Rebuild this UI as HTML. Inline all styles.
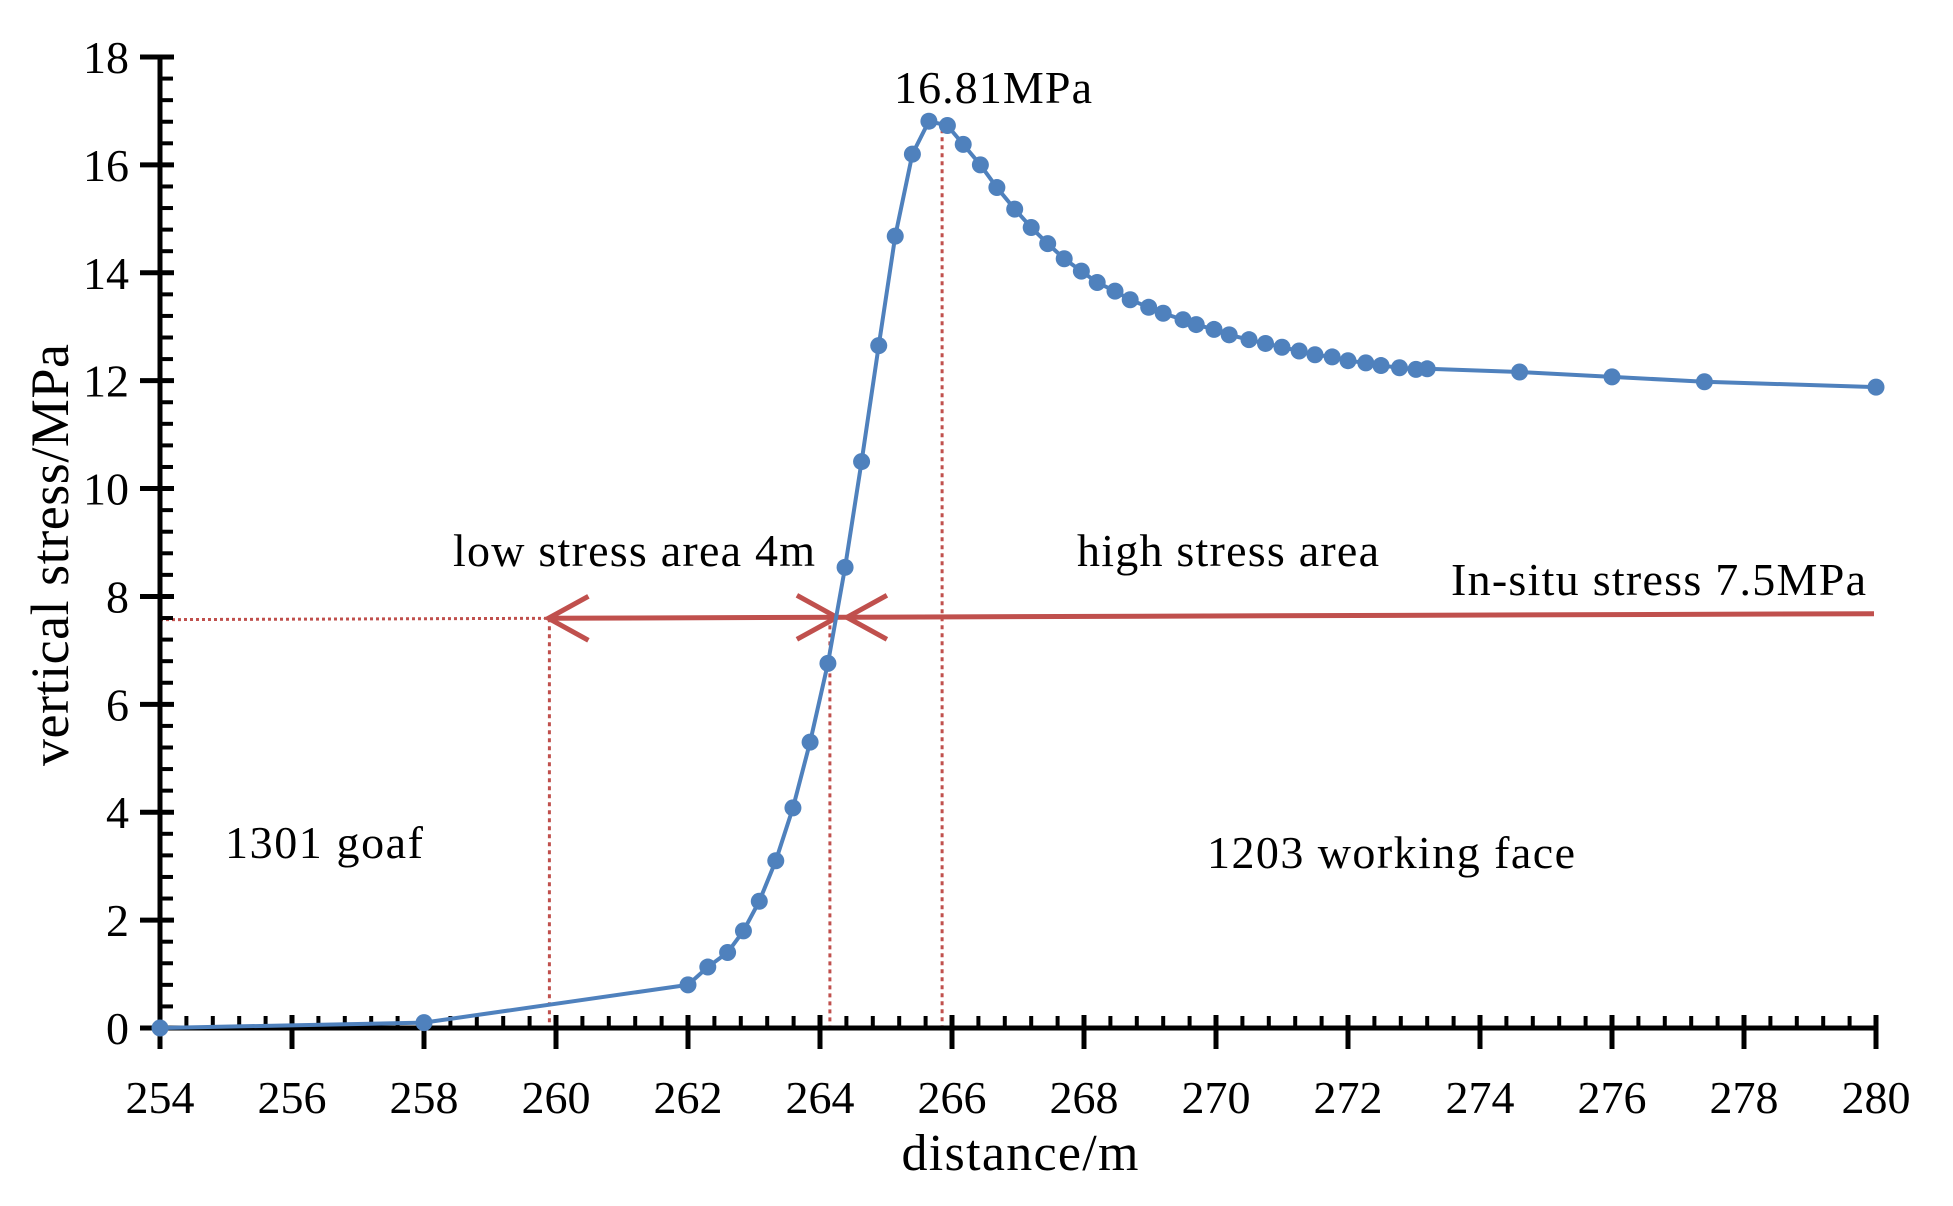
<!DOCTYPE html>
<html><head><meta charset="utf-8"><style>
html,body{margin:0;padding:0;background:#fff;}
svg{display:block;}
text{font-family:"Liberation Serif",serif;fill:#000;}
</style></head><body>
<svg id="chart" width="1953" height="1206" viewBox="0 0 1953 1206" xmlns="http://www.w3.org/2000/svg">
<g id="grid"></g>
<g id="axes"></g>
<g id="series"></g>
<text x="993" y="103" font-size="46" text-anchor="middle" textLength="198">16.81MPa</text>
<text x="453" y="566" font-size="46" textLength="362">low stress area 4m</text>
<text x="1077" y="566" font-size="46" textLength="302">high stress area</text>
<text x="1866" y="595" font-size="46" text-anchor="end" textLength="415">In-situ stress 7.5MPa</text>
<text x="225" y="858" font-size="46" textLength="198">1301 goaf</text>
<text x="1207" y="868" font-size="46" textLength="368">1203 working face</text>
<text x="1020" y="1170" font-size="52" text-anchor="middle" textLength="237">distance/m</text>
<text transform="translate(68,555) rotate(-90)" font-size="54" text-anchor="middle" textLength="422">vertical stress/MPa</text>
</svg>
<script>
const xVals=[254,258,262,262.3,262.6,262.84,263.08,263.33,263.59,263.85,264.12,264.38,264.63,264.89,265.14,265.4,265.65,265.93,266.17,266.43,266.68,266.95,267.2,267.45,267.7,267.96,268.2,268.47,268.7,268.98,269.2,269.5,269.7,269.97,270.2,270.5,270.75,271.0,271.26,271.5,271.76,272.0,272.27,272.5,272.78,273.03,273.2,274.6,276.0,277.4,280];
const yVals=[0,0.1,0.8,1.13,1.4,1.8,2.35,3.1,4.08,5.3,6.76,8.54,10.5,12.65,14.68,16.2,16.81,16.73,16.38,16.0,15.58,15.18,14.84,14.54,14.26,14.03,13.82,13.66,13.5,13.36,13.25,13.13,13.04,12.95,12.85,12.76,12.69,12.62,12.55,12.48,12.44,12.37,12.33,12.28,12.24,12.21,12.22,12.16,12.07,11.98,11.88];
const xTicks=[254,256,258,260,262,264,266,268,270,272,274,276,278,280];
const yTicks=[0,2,4,6,8,10,12,14,16,18];
const inSitu=[7.57,7.68];
const lowStart=259.9, lowEnd=264.15, peakX=265.85;
const NS="http://www.w3.org/2000/svg";
const X=v=>160+(v-254)*(1716/26);
const Y=v=>1028-v*(971/18);
function mk(p,tag,a){const e=document.createElementNS(NS,tag);for(const k in a)e.setAttribute(k,a[k]);p.appendChild(e);return e;}
const ax=document.getElementById('axes'),an=document.getElementById('grid'),se=document.getElementById('series');
let e=mk(ax,'line',{x1:160,y1:1028,x2:X(280),y2:1028,stroke:'#000','stroke-width':5});


e=mk(ax,'line',{x1:160,y1:1028,x2:160,y2:Y(18),stroke:'#000','stroke-width':5});


for(let v=254;v<280-0.01;v+=0.4){mk(ax,'line',{x1:X(v),y1:1028,x2:X(v),y2:1016,stroke:'#000','stroke-width':4});}
for(let v=0;v<18-0.01;v+=0.4){mk(ax,'line',{x1:160,y1:Y(v),x2:173,y2:Y(v),stroke:'#000','stroke-width':4});}
xTicks.forEach(t=>{mk(ax,'line',{x1:X(t),y1:1015,x2:X(t),y2:1049,stroke:'#000','stroke-width':5});
const tx=mk(ax,'text',{x:X(t),y:1113,'font-size':46,'text-anchor':'middle'});tx.textContent=t;

});
yTicks.forEach(t=>{mk(ax,'line',{x1:140,y1:Y(t),x2:174,y2:Y(t),stroke:'#000','stroke-width':5});
const tx=mk(ax,'text',{x:129,y:Y(t)+16,'font-size':46,'text-anchor':'end'});tx.textContent=t;

});
const red='#c0504d';
const sl=(inSitu[1]-inSitu[0])/(280-254);const iy=v=>Y(inSitu[0]+sl*(v-254));
mk(an,'line',{x1:160,y1:iy(254),x2:X(lowStart),y2:iy(lowStart),stroke:red,'stroke-width':3,'stroke-dasharray':'3 3'});
e=mk(an,'line',{x1:X(lowStart),y1:iy(lowStart),x2:X(280)-2,y2:iy(280),stroke:red,'stroke-width':5});


[[lowStart,iy(lowStart)],[lowEnd,iy(lowEnd)],[peakX,Y(16.81)]].forEach(([v,yt])=>{
const l=mk(an,'line',{x1:X(v),y1:yt,x2:X(v),y2:1026,stroke:red,'stroke-width':3,'stroke-dasharray':'4 4'});

});
function head(tx,ty,dir){mk(an,'polyline',{points:`${tx+dir*40},${ty-22} ${tx},${ty} ${tx+dir*40},${ty+22}`,fill:'none',stroke:red,'stroke-width':5});}
head(X(lowStart)-1,iy(lowStart),1);
head(X(lowEnd)+7,iy(lowEnd),-1);
head(X(lowEnd)+17,iy(lowEnd),1);
const pts=xVals.map((v,i)=>X(v)+','+Y(yVals[i])).join(' ');
e=mk(se,'polyline',{points:pts,fill:'none',stroke:'#4f81bd','stroke-width':4});


xVals.forEach((v,i)=>{const c=mk(se,'circle',{cx:X(v),cy:Y(yVals[i]),r:8.5,fill:'#4f81bd'});

});
</script>
</body></html>
